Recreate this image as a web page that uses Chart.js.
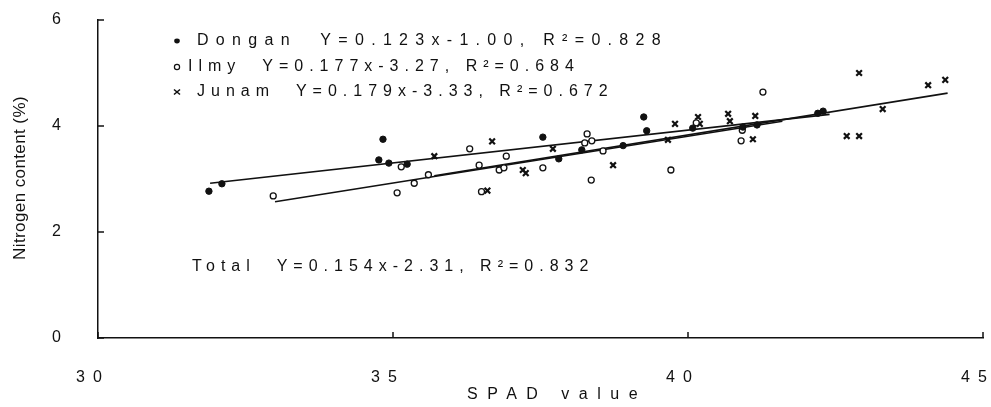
<!DOCTYPE html>
<html>
<head>
<meta charset="utf-8">
<script src="https://cdn.jsdelivr.net/npm/chart.js@4/dist/chart.umd.min.js"></script>
<style>
  html, body { margin: 0; padding: 0; background: #fff; }
  #wrap { width: 991px; height: 407px; position: relative; }
</style>
</head>
<body>
<div id="wrap"><canvas id="nChart"></canvas></div>
<script>
// values (SPAD value, nitrogen %)
const donganSpad = [31.88, 32.1, 34.76, 34.83, 34.93, 35.24, 37.54, 37.81, 38.2, 38.9, 39.25, 39.3, 40.08, 40.93, 41.17, 42.2, 42.29];
const donganN    = [2.77, 2.91, 3.36, 3.75, 3.30, 3.28, 3.79, 3.38, 3.55, 3.63, 4.17, 3.91, 3.96, 3.98, 4.02, 4.24, 4.28];

const ilmySpad = [32.97, 35.07, 35.14, 35.36, 35.6, 36.3, 36.46, 36.5, 36.8, 36.88, 36.92, 37.54, 38.25, 38.29, 38.36, 38.37, 38.56, 39.71, 40.14, 40.9, 40.92, 41.27];
const ilmyN    = [2.68, 2.74, 3.23, 2.92, 3.08, 3.57, 3.26, 2.76, 3.17, 3.21, 3.43, 3.21, 3.68, 3.85, 2.98, 3.72, 3.53, 3.17, 4.06, 3.72, 3.92, 4.64];

const junamSpad = [35.7, 36.6, 36.68, 37.2, 37.25, 37.71, 38.73, 39.66, 39.78, 40.17, 40.2, 40.68, 40.71, 41.1, 41.14, 42.69, 42.9, 42.9, 43.3, 44.07, 44.36];
const junamN    = [3.43, 2.78, 3.71, 3.17, 3.11, 3.57, 3.26, 3.74, 4.04, 4.17, 4.04, 4.23, 4.09, 3.75, 4.19, 3.81, 3.81, 5.00, 4.32, 4.77, 4.87];

// fitted line end points as drawn
const donganLineSpad = [31.9, 42.4];
const donganLineN    = [2.92, 4.22];
const ilmyLineSpad   = [33.0, 41.6];
const ilmyLineN      = [2.57, 4.09];
const junamLineSpad  = [35.7, 44.4];
const junamLineN     = [3.06, 4.62];

const legendLines = [
  'Dongan  Y=0.123x-1.00, R²=0.828',
  'Ilmy  Y=0.177x-3.27, R²=0.684',
  'Junam  Y=0.179x-3.33, R²=0.672'
];
const totalText = 'Total  Y=0.154x-2.31, R²=0.832';
const xTicks = [30, 35, 40, 45];
const yTicks = [0, 2, 4, 6];

const FONT = '"Liberation Sans", Arial, sans-serif';

function pts(xs, ys) {
  return xs.map((x, i) => ({ x: x, y: ys[i] }));
}

function lineSet(xs, ys) {
  return {
    data: pts(xs, ys),
    showLine: true,
    borderColor: '#111',
    borderWidth: 1.6,
    pointRadius: 0,
    order: 2
  };
}

const decorPlugin = {
  id: 'decor',
  beforeDraw(chart) {
    chart.ctx.letterSpacing = '8px';
  },
  afterDraw(chart) {
    const ctx = chart.ctx;
    const xs = chart.scales.x, ys = chart.scales.y;
    const area = chart.chartArea;
    ctx.save();
    ctx.letterSpacing = '0px';
    ctx.strokeStyle = '#111';
    ctx.fillStyle = '#111';
    ctx.lineWidth = 1.5;
    // inward ticks
    yTicks.forEach(v => {
      const py = ys.getPixelForValue(v);
      ctx.beginPath(); ctx.moveTo(area.left, py); ctx.lineTo(area.left + 6, py); ctx.stroke();
    });
    xTicks.forEach(v => {
      const px = xs.getPixelForValue(v);
      ctx.beginPath(); ctx.moveTo(px, area.bottom); ctx.lineTo(px, area.bottom - 6); ctx.stroke();
    });

    // y title
    ctx.save();
    ctx.translate(20, 178);
    ctx.rotate(-Math.PI / 2);
    ctx.font = '17px ' + FONT;
    ctx.letterSpacing = '0.4px';
    ctx.textAlign = 'center';
    ctx.textBaseline = 'middle';
    ctx.fillText('Nitrogen content (%)', 0, 0);
    ctx.restore();

    // x title
    ctx.font = '16px ' + FONT;
    ctx.letterSpacing = '9.5px';
    ctx.textAlign = 'left';
    ctx.textBaseline = 'middle';
    ctx.fillText('SPAD value', 467, 395);

    // legend text with markers
    ctx.font = '16px ' + FONT;
    const rowY = [41, 67, 92];
    const textX = [197, 188, 197];
    const spacing = ['7.3px', '6px', '6px'];
    legendLines.forEach((t, i) => {
      ctx.letterSpacing = spacing[i];
      ctx.fillText(t, textX[i], rowY[i]);
    });
    ctx.letterSpacing = '6px';
    ctx.fillText(totalText, 192, 267);

    ctx.letterSpacing = '0px';
    // markers
    ctx.beginPath(); ctx.ellipse(177, rowY[0], 2.8, 2.4, 0, 0, Math.PI * 2); ctx.fill();
    ctx.lineWidth = 1.2;
    ctx.beginPath(); ctx.arc(177, rowY[1], 2.6, 0, Math.PI * 2); ctx.stroke();
    ctx.lineWidth = 1.6;
    ctx.beginPath();
    ctx.moveTo(174, rowY[2] - 2.5); ctx.lineTo(180, rowY[2] + 2.5);
    ctx.moveTo(180, rowY[2] - 2.5); ctx.lineTo(174, rowY[2] + 2.5);
    ctx.stroke();
    ctx.restore();
  }
};

const ctx = document.getElementById('nChart').getContext('2d');
const nChart = new Chart(ctx, {
  type: 'scatter',
  data: {
    datasets: [
      {
        data: pts(donganSpad, donganN),
        pointStyle: 'circle',
        pointRadius: 3.2,
        backgroundColor: '#111',
        borderColor: '#111',
        borderWidth: 1,
        order: 1
      },
      {
        data: pts(ilmySpad, ilmyN),
        pointStyle: 'circle',
        pointRadius: 3,
        backgroundColor: '#fff',
        borderColor: '#111',
        borderWidth: 1.3,
        order: 1
      },
      {
        data: pts(junamSpad, junamN),
        pointStyle: 'crossRot',
        pointRadius: 4,
        borderColor: '#111',
        borderWidth: 2.2,
        order: 1
      },
      lineSet(donganLineSpad, donganLineN),
      lineSet(ilmyLineSpad, ilmyLineN),
      lineSet(junamLineSpad, junamLineN)
    ]
  },
  options: {
    responsive: true,
    maintainAspectRatio: false,
    animation: false,
    layout: { padding: { left: 0, right: 8, top: 20, bottom: 0 } },
    plugins: {
      legend: { display: false },
      tooltip: { enabled: false }
    },
    scales: {
      x: {
        type: 'linear',
        min: 30,
        max: 45,
        afterBuildTicks: s => { s.ticks = xTicks.map(v => ({ value: v })); },
        ticks: {
          color: '#111',
          font: { family: FONT, size: 16 },
          padding: 30,
          labelOffset: -5,
          maxRotation: 0
        },
        grid: { display: false, drawTicks: false },
        border: { display: true, color: '#111', width: 1.5 },
        afterFit: s => { s.height = 69; s.paddingLeft = 0; s.paddingRight = 0; }
      },
      y: {
        min: 0,
        max: 6,
        afterBuildTicks: s => { s.ticks = yTicks.map(v => ({ value: v })); },
        ticks: {
          color: '#111',
          font: { family: FONT, size: 16 },
          padding: 29
        },
        grid: { display: false, drawTicks: false },
        border: { display: true, color: '#111', width: 1.5 },
        afterFit: s => { s.width = 98; s.paddingTop = 0; s.paddingBottom = 0; }
      }
    }
  },
  plugins: [decorPlugin]
});
</script>
</body>
</html>
